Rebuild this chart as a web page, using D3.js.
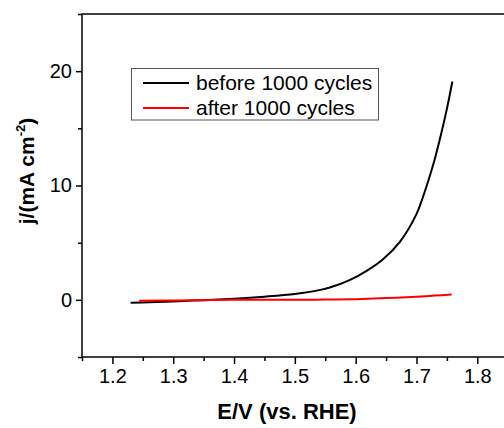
<!DOCTYPE html>
<html>
<head>
<meta charset="utf-8">
<script src="https://cdn.jsdelivr.net/npm/d3@7/dist/d3.min.js"></script>
<style>
  html, body { margin: 0; padding: 0; background: #fff; }
  svg { display: block; font-family: "Liberation Sans", Arial, sans-serif; }
</style>
</head>
<body>
<svg id="chart" width="504" height="428"></svg>
<script>
// ---- data ----
const beforeE = [1.230, 1.26, 1.30, 1.35, 1.40, 1.45, 1.50, 1.54, 1.56, 1.59, 1.62, 1.645, 1.673, 1.70, 1.71, 1.72, 1.73, 1.74, 1.75, 1.759];
const beforeJ = [-0.26, -0.22, -0.14, -0.03, 0.10, 0.28, 0.52, 0.85, 1.12, 1.72, 2.6, 3.55, 5.1, 7.5, 8.9, 10.5, 12.3, 14.4, 16.7, 19.1];
const afterE  = [1.244, 1.30, 1.40, 1.50, 1.55, 1.60, 1.65, 1.70, 1.73, 1.758];
const afterJ  = [-0.09, -0.05, 0.0, 0.0, 0.02, 0.06, 0.15, 0.28, 0.37, 0.47];
const seriesNames = ["before 1000 cycles", "after 1000 cycles"];
const seriesColors = ["#000000", "#ff0000"];
const xTicks = [1.2, 1.3, 1.4, 1.5, 1.6, 1.7, 1.8];
const yTicks = [0, 10, 20];
const xTitle = "E/V (vs. RHE)";

// ---- layout ----
const svg = d3.select("#chart");
const L = 82, R = 507.7, T = 14, B = 357;
const x = d3.scaleLinear().domain([1.15, 1.85]).range([L, R]);
const y = d3.scaleLinear().domain([-5, 25]).range([B, T]);

// frame
svg.append("rect").attr("x", L).attr("y", T).attr("width", R - L).attr("height", B - T)
  .attr("fill", "none").attr("stroke", "#000").attr("stroke-width", 1.5);

// minor ticks
const xMinor = d3.range(1.15, 1.851, 0.1).map(v => +v.toFixed(2));
const yMinor = [-5, 5, 15, 25];
svg.append("g").attr("transform", `translate(0,${B})`)
  .call(d3.axisBottom(x).tickValues(xMinor).tickSize(4).tickFormat(""))
  .call(g => { g.select(".domain").remove(); g.selectAll("line").attr("stroke-width", 1.5); });
svg.append("g").attr("transform", `translate(${L},0)`)
  .call(d3.axisLeft(y).tickValues(yMinor).tickSize(4).tickFormat(""))
  .call(g => { g.select(".domain").remove(); g.selectAll("line").attr("stroke-width", 1.5); });

// major axes
svg.append("g").attr("transform", `translate(0,${B})`)
  .call(d3.axisBottom(x).tickValues(xTicks).tickSize(7).tickPadding(5).tickFormat(d3.format(".1f")))
  .call(g => {
    g.select(".domain").remove();
    g.selectAll("line").attr("stroke-width", 1.5);
    g.selectAll("text").attr("font-size", 20).attr("fill", "#000")
      .attr("font-family", "'Liberation Sans', Arial, sans-serif");
  });
svg.append("g").attr("transform", `translate(${L},0)`)
  .call(d3.axisLeft(y).tickValues(yTicks).tickSize(6).tickPadding(4).tickFormat(d3.format("d")))
  .call(g => {
    g.select(".domain").remove();
    g.selectAll("line").attr("stroke-width", 1.5);
    g.selectAll("text").attr("font-size", 20).attr("fill", "#000")
      .attr("font-family", "'Liberation Sans', Arial, sans-serif");
  });

// curves
const line = d3.line().x(d => x(d[0])).y(d => y(d[1])).curve(d3.curveCatmullRom.alpha(0.5));
const series = [
  beforeE.map((e, i) => [e, beforeJ[i]]),
  afterE.map((e, i) => [e, afterJ[i]])
];
series.forEach((s, i) => {
  svg.append("path").datum(s).attr("d", line)
    .attr("fill", "none").attr("stroke", seriesColors[i]).attr("stroke-width", 2);
});

// legend
const lg = svg.append("g");
lg.append("rect").attr("x", 131.5).attr("y", 68.5).attr("width", 247).attr("height", 51.5)
  .attr("fill", "#fff").attr("stroke", "#555").attr("stroke-width", 1);
seriesNames.forEach((n, i) => {
  const yy = 83 + i * 25;
  lg.append("line").attr("x1", 143).attr("x2", 189).attr("y1", yy).attr("y2", yy)
    .attr("stroke", seriesColors[i]).attr("stroke-width", 2);
  lg.append("text").attr("x", 196).attr("y", yy + 7).attr("font-size", 21).attr("fill", "#000").text(n);
});

// axis titles
svg.append("text").attr("x", 287).attr("y", 419).attr("text-anchor", "middle")
  .attr("font-size", 22).attr("font-weight", "bold").attr("fill", "#000").text(xTitle);

const yt = svg.append("text").attr("transform", "translate(34,171) rotate(-90)")
  .attr("text-anchor", "middle").attr("font-size", 21).attr("font-weight", "bold").attr("fill", "#000");
yt.append("tspan").text("j/(mA cm");
yt.append("tspan").attr("font-size", 13).attr("dy", -9).text("-2");
yt.append("tspan").attr("dy", 9).text(")");
</script>
</body>
</html>
